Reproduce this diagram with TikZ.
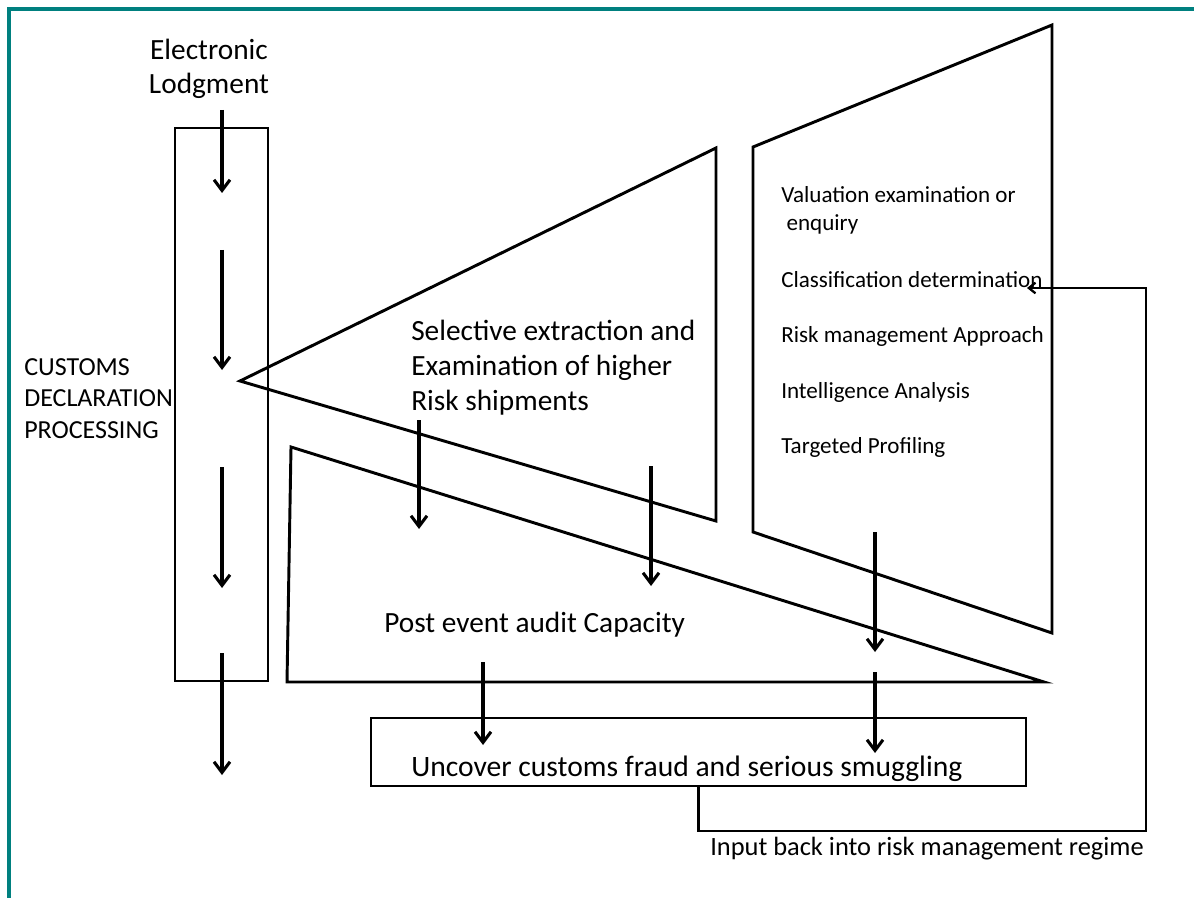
\documentclass[tikz,border=0pt]{standalone}
\usepackage{fontspec}
\setmainfont{Carlito}
\usepackage{tikz}
\usetikzlibrary{arrows.meta}
\definecolor{frameteal}{HTML}{00807F}

\begin{document}
\begin{tikzpicture}[
  x=0.75pt, y=-0.75pt,
  shp/.style={draw=black, line width=2.2pt, line join=miter},
  flow/.style={-{Straight Barb[length=8pt, width=12pt]}, line width=2.3pt},
  back/.style={-{Straight Barb[length=5pt, width=8pt]}, line width=1.7pt},
  big/.style={font=\fontsize{22}{26}\selectfont, inner sep=0pt, align=left},
  caps/.style={font=\fontsize{19.5}{23.6}\selectfont, inner sep=0pt, align=left},
  item/.style={font=\fontsize{17.3}{21}\selectfont, inner sep=0pt, align=left, anchor=base west},
  fraudbox/.style={draw=black, line width=2.2pt, inner sep=0pt,
    minimum width=491.25pt, minimum height=51pt}
]
\useasboundingbox (0,0) rectangle (1194,898);
\draw[frameteal, line width=3.4pt] (9,898) -- (9,9) -- (1194,9);

% column, funnel, risk panel, audit wedge
\draw[shp] (175,128) rectangle (268,681);
\draw[shp] (240,381) -- (716,148) -- (716,521) -- cycle;
\draw[shp] (753,147) -- (1052,25) -- (1052,633) -- (753,532) -- cycle;
\draw[shp] (291,447) -- (1044,682) -- (287,682) -- cycle;

% texts
\node[big, align=center, anchor=base] (lodge) at (209,94) {Electronic\\Lodgment};
\node[caps, anchor=base west] (cdp) at (24,438) {CUSTOMS\\DECLARATION\\PROCESSING};
\node[big, anchor=base west] (sel) at (411,410)
  {Selective extraction and\\Examination of higher\\Risk shipments};
\node[item] (val) at (781,231) {Valuation examination or\\\hspace*{4pt}enquiry};
\node[item] (cls) at (781,287) {Classification determination};
\node[item] (rma) at (781,342) {Risk management Approach};
\node[item] (ina) at (781,398) {Intelligence Analysis};
\node[item] (tpr) at (781,453) {Targeted Profiling};
\node[big, anchor=base west] (pea) at (384,632) {Post event audit Capacity};
\node[fraudbox] (ucf) at (698.5,752) {};
\node[big, font=\fontsize{22.2}{26}\selectfont, anchor=base west] (ucftxt) at (411,776)
  {Uncover customs fraud and serious smuggling};
\node[caps, font=\fontsize{19.8}{24}\selectfont, anchor=base west] (inp) at (710,855)
  {Input back into risk management regime};

% arrow ends
\coordinate (colAs) at (222,110); \coordinate (colAe) at (222,193);
\coordinate (colBs) at (222,250); \coordinate (colBe) at (222,370);
\coordinate (colCs) at (222,467); \coordinate (colCe) at (222,588);
\coordinate (colDs) at (222,653); \coordinate (colDe) at (222,775);
\coordinate (selAs) at (419,420); \coordinate (selAe) at (419,529);
\coordinate (selBs) at (651,466); \coordinate (selBe) at (651,586);
\coordinate (riskS) at (875,532); \coordinate (riskE) at (875,652);
\coordinate (peaAs) at (483,662); \coordinate (peaAe) at (483,745);
\coordinate (peaBs) at (875,672); \coordinate (peaBe) at (875,753);
\coordinate (fbB) at (1146,831);
\coordinate (fbT) at (1027,288);

\draw[flow] (colAs) -- (colAe);
\draw[flow] (colBs) -- (colBe);
\draw[flow] (colCs) -- (colCe);
\draw[flow] (colDs) -- (colDe);
\draw[flow] (selAs) -- (selAe);
\draw[flow] (selBs) -- (selBe);
\draw[flow] (riskS) -- (riskE);
\draw[flow] (peaAs) -- (peaAe);
\draw[flow] (peaBs) -- (peaBe);
\draw[back] (ucf.south) |- (fbB) |- (fbT);
\end{tikzpicture}
\end{document}
